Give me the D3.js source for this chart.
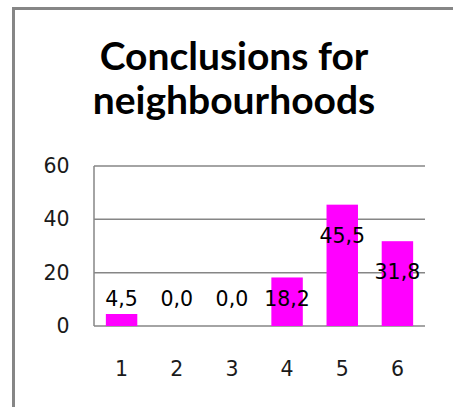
<!DOCTYPE html>
<html>
<head>
<meta charset="utf-8">
<script src="https://cdn.jsdelivr.net/npm/d3@7"></script>
<style>
  html, body { margin: 0; padding: 0; background: #fff; }
  svg { display: block; }
</style>
</head>
<body>
<svg id="chart" width="453" height="407"></svg>
<script>
// Share of conclusions per neighbourhood
const categories = ["1", "2", "3", "4", "5", "6"];
const values = [4.5, 0.0, 0.0, 18.2, 45.5, 31.8];
const yTicks = [0, 20, 40, 60];
const titleLines = ["Conclusions for", "neighbourhoods"];

const svg = d3.select("#chart");
const W = 453, H = 407;

// chart frame (left and top edges)
svg.append("path")
  .attr("d", `M13.5,${H} L13.5,8.5 L${W},8.5`)
  .attr("fill", "none")
  .attr("stroke", "#868686")
  .attr("stroke-width", 3);

// title
svg.selectAll("text.title")
  .data(titleLines)
  .join("text")
  .attr("class", "title")
  .attr("x", 234)
  .attr("y", (d, i) => 70 + i * 44)
  .attr("text-anchor", "middle")
  .attr("font-family", "Lato, 'Open Sans', sans-serif")
  .attr("font-weight", "bold")
  .attr("font-size", 39)
  .attr("fill", "#000")
  .text(d => d);

const plot = { left: 94, right: 425, top: 166, bottom: 326 };

const x = d3.scaleBand()
  .domain(categories)
  .range([plot.left, plot.right])
  .paddingInner(0.43)
  .paddingOuter(0.215);

const y = d3.scaleLinear()
  .domain([0, 60])
  .range([plot.bottom, plot.top]);

const fontTick = "'DejaVu Sans', Verdana, sans-serif";
const tickSize = 20.5;

// horizontal gridlines
svg.append("g")
  .selectAll("line")
  .data(yTicks)
  .join("line")
  .attr("x1", plot.left)
  .attr("x2", plot.right)
  .attr("y1", d => y(d))
  .attr("y2", d => y(d))
  .attr("stroke", "#868686")
  .attr("stroke-width", 1.5);

// value axis line
svg.append("line")
  .attr("x1", plot.left).attr("x2", plot.left)
  .attr("y1", y(60)).attr("y2", y(0))
  .attr("stroke", "#868686")
  .attr("stroke-width", 1.5);

// y axis labels
const yAxis = d3.axisLeft(y).tickValues(yTicks).tickSize(0).tickPadding(24.5).tickFormat(d3.format("d"));
const gy = svg.append("g").attr("transform", `translate(${plot.left},0)`).call(yAxis);
gy.select(".domain").remove();
gy.selectAll("text")
  .attr("font-family", fontTick)
  .attr("font-size", tickSize)
  .attr("fill", "#1a1a1a");

// x axis labels
const xAxis = d3.axisBottom(x).tickSize(0).tickPadding(35);
const gx = svg.append("g").attr("transform", `translate(0,${plot.bottom})`).call(xAxis);
gx.select(".domain").remove();
gx.selectAll("text")
  .attr("font-family", fontTick)
  .attr("font-size", tickSize)
  .attr("fill", "#1a1a1a");

// bars
svg.append("g")
  .selectAll("rect")
  .data(values)
  .join("rect")
  .attr("x", (d, i) => x(categories[i]))
  .attr("y", d => y(d))
  .attr("width", x.bandwidth())
  .attr("height", d => y(0) - y(d))
  .attr("fill", "#ff00ff");

// value labels
const fmt = v => v.toFixed(1).replace(".", ",");
svg.append("g")
  .selectAll("text")
  .data(values)
  .join("text")
  .attr("x", (d, i) => x(categories[i]) + x.bandwidth() / 2)
  .attr("y", d => Math.min(y(d) + 31, y(0) - 27))
  .attr("dy", "0.35em")
  .attr("text-anchor", "middle")
  .attr("font-family", fontTick)
  .attr("font-size", tickSize)
  .attr("fill", "#000")
  .text(d => fmt(d));
</script>
</body>
</html>
